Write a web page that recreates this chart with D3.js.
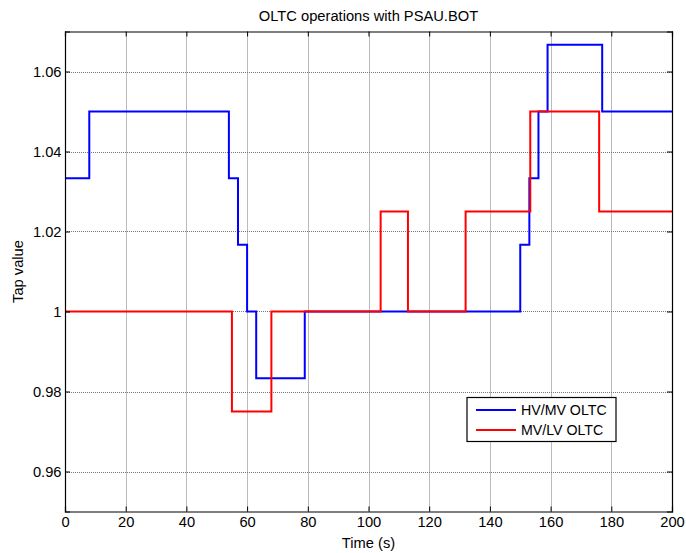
<!DOCTYPE html>
<html><head><meta charset="utf-8">
<script src="https://cdn.jsdelivr.net/npm/d3@7"></script>
<style>body{margin:0;background:#fff}svg{display:block}text{font-family:"Liberation Sans",Arial,sans-serif}</style>
</head><body><svg id="c" width="686" height="553"></svg>
<script>
const title = "OLTC operations with PSAU.BOT";
const xLabel = "Time (s)";
const yLabel = "Tap value";
const xTicks = [0,20,40,60,80,100,120,140,160,180,200];
const yTicks = [0.96,0.98,1,1.02,1.04,1.06];
const yTickLabels = ["0.96","0.98","1","1.02","1.04","1.06"];
// step series: time at which each level starts, and the level
const hvTimes  = [0, 8, 54, 57, 60, 63, 79, 150, 153, 156, 159, 177, 200];
const hvValues = [1.0333, 1.05, 1.0333, 1.0167, 1.0, 0.9833, 1.0, 1.0167, 1.0333, 1.05, 1.0667, 1.05, 1.05];
const lvTimes  = [0, 55, 68, 104, 113, 132, 153.3, 176, 200];
const lvValues = [1.0, 0.975, 1.0, 1.025, 1.0, 1.025, 1.05, 1.025, 1.025];
const seriesNames = ["HV/MV OLTC", "MV/LV OLTC"];
const seriesColors = ["#0000ff", "#ff0000"];

const FS = 14.7;
const svg = d3.select("#c");
const m = {l:65, r:14, t:31.5, b:41.5};
const W = 686, H = 553;
const x = d3.scaleLinear().domain([0,200]).range([m.l, W-m.r]);
const y = d3.scaleLinear().domain([0.95,1.07]).range([H-m.b, m.t]);

// grid
const g = svg.append("g");
g.selectAll(".gx").data(xTicks.slice(1,-1)).enter().append("line")
  .attr("x1",d=>Math.round(x(d))+0.5).attr("x2",d=>Math.round(x(d))+0.5).attr("y1",y(0.95)).attr("y2",y(1.07))
  .attr("stroke","#777").attr("stroke-width",1).attr("stroke-dasharray","1,1");
g.selectAll(".gy").data(yTicks).enter().append("line")
  .attr("y1",d=>Math.round(y(d))+0.5).attr("y2",d=>Math.round(y(d))+0.5).attr("x1",x(0)).attr("x2",x(200))
  .attr("stroke","#777").attr("stroke-width",1).attr("stroke-dasharray","1,1");

// series
const line = d3.line().x(d=>x(d[0])).y(d=>y(d[1])).curve(d3.curveStepAfter);
[[hvTimes,hvValues],[lvTimes,lvValues]].forEach((s,i)=>{
  const pts = s[0].map((t,j)=>[t,s[1][j]]);
  svg.append("path").attr("d",line(pts)).attr("fill","none")
    .attr("stroke",seriesColors[i]).attr("stroke-width",2);
});

// axes
const ax = svg.append("g").attr("transform",`translate(0,${y(0.95)})`)
  .call(d3.axisBottom(x).tickValues(xTicks).tickSize(-5).tickPadding(5).tickFormat(d3.format("d")));
const axT = svg.append("g").attr("transform",`translate(0,${y(1.07)})`)
  .call(d3.axisTop(x).tickValues(xTicks).tickSize(-5).tickFormat(""));
const ay = svg.append("g").attr("transform",`translate(${x(0)},0)`)
  .call(d3.axisLeft(y).tickValues(yTicks).tickSize(-5).tickPadding(3.5).tickFormat((d,i)=>yTickLabels[i]));
const ayR = svg.append("g").attr("transform",`translate(${x(200)},0)`)
  .call(d3.axisRight(y).tickValues(yTicks).tickSize(-5).tickFormat(""));
[ax,axT,ay,ayR].forEach(a=>{
  a.select(".domain").attr("stroke","#000").attr("stroke-width",1.2);
  a.selectAll(".tick line").attr("stroke","#000");
  a.selectAll("text").attr("font-size",FS).attr("fill","#000").style("font-family",'"Liberation Sans",Arial,sans-serif');
});

svg.append("text").attr("x",(x(0)+x(200))/2).attr("y",21).attr("text-anchor","middle")
  .attr("font-size",FS).text(title);
svg.append("text").attr("x",(x(0)+x(200))/2).attr("y",548).attr("text-anchor","middle")
  .attr("font-size",FS).text(xLabel);
svg.append("text").attr("transform",`translate(23,${(y(0.95)+y(1.07))/2}) rotate(-90)`)
  .attr("text-anchor","middle").attr("font-size",FS).text(yLabel);

// legend
const lg = svg.append("g");
lg.append("rect").attr("x",467).attr("y",397.5).attr("width",149).attr("height",44)
  .attr("fill","#fff").attr("stroke","#000").attr("stroke-width",1.2);
seriesNames.forEach((n,i)=>{
  const yy = 410 + i*20;
  lg.append("line").attr("x1",476).attr("x2",516).attr("y1",yy).attr("y2",yy)
    .attr("stroke",seriesColors[i]).attr("stroke-width",2);
  lg.append("text").attr("x",521).attr("y",yy+5).attr("font-size",14.2).text(n);
});
</script></body></html>
